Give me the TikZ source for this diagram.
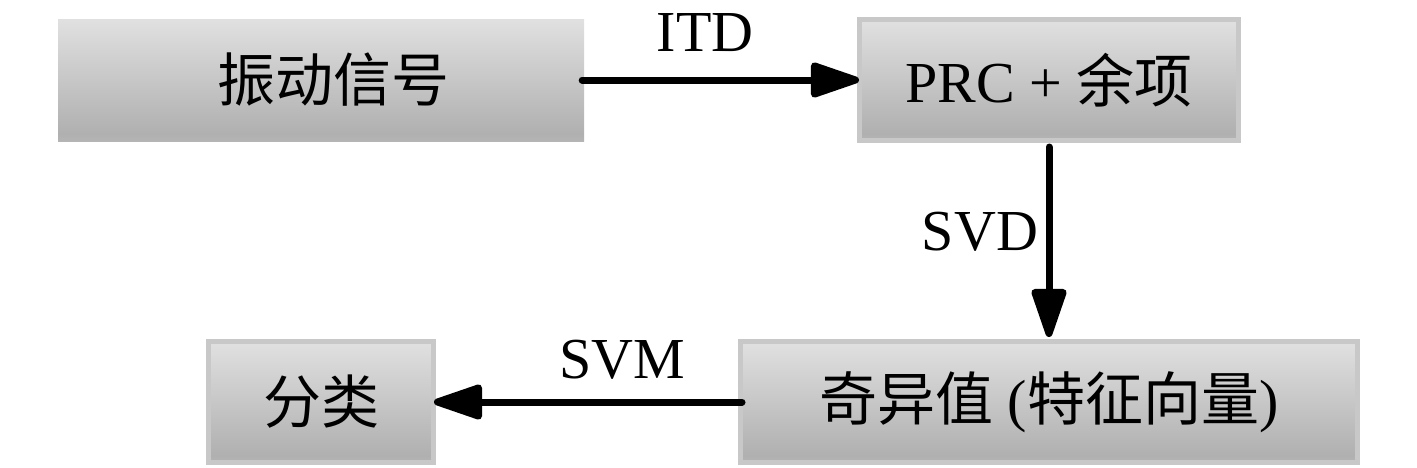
\documentclass[tikz,border=0pt]{standalone}
\usepackage{fontspec}
\setmainfont{Liberation Serif}
\newfontfamily\cjk{Noto Sans CJK SC}
\usetikzlibrary{arrows.meta}
\definecolor{shtop}{HTML}{F2F2F2}
\definecolor{shmid}{HTML}{B0B0B0}
\definecolor{shbot}{HTML}{CFCFCF}
\definecolor{boxedge}{HTML}{C8C8C8}
\pgfdeclareverticalshading{boxshade}{100bp}{color(0bp)=(shbot); color(8bp)=(shbot); color(28bp)=(shmid); color(92bp)=(shtop); color(100bp)=(shtop)}
\begin{document}
\begin{tikzpicture}[x=1pt,y=-1pt,
  every node/.style={font=\fontsize{58}{62}\selectfont},
  box/.style={shading=boxshade, inner sep=0pt},
  edgebox/.style={box, draw=boxedge, line width=5pt},
  conn/.style={line width=7pt, line cap=round, -{Triangle[length=56pt,width=36pt,round=false]}},
  lab/.style={inner sep=0pt}]
\useasboundingbox (0,0) rectangle (1417,467);
\node[box, minimum width=526pt, minimum height=122pt] (sig) at (321,80) {\hspace*{24pt}\cjk 振动信号};
\node[edgebox, minimum width=379pt, minimum height=121pt] (prc) at (1049,80) {PRC + {\cjk 余项}};
\node[edgebox, minimum width=617pt, minimum height=121pt] (sv) at (1049,402) {{\cjk 奇异值} ({\cjk 特征向量})};
\node[edgebox, minimum width=225pt, minimum height=121pt] (cls) at (321,402) {\cjk 分类};
\draw[conn] ([xshift=-2pt]sig.east) -- ([xshift=2pt]prc.west);
\draw[conn] ([yshift=-4pt]prc.south) -- ([yshift=2pt]sv.north);
\draw[conn] ([xshift=4pt]sv.west) -- ([xshift=-2pt]cls.east);
\node[lab] (itd) at (705,33) {ITD};
\node[lab] (svd) at (980,232) {SVD};
\node[lab] (svm) at (622,360) {SVM};
\end{tikzpicture}
\end{document}
